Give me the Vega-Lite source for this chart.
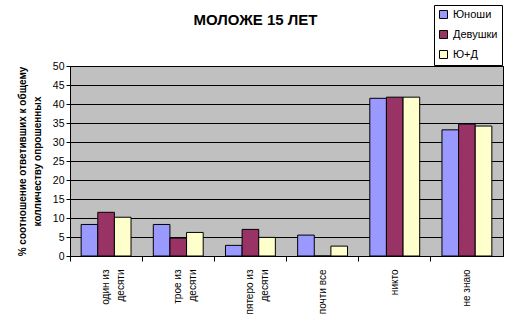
{
  "$schema": "https://vega.github.io/schema/vega-lite/v6.json",
  "width": 433,
  "height": 190,
  "autosize": "none",
  "padding": {"left": 70, "top": 66, "right": 7, "bottom": 67},
  "background": "white",
  "title": {"text": "МОЛОЖЕ 15 ЛЕТ", "font": "Liberation Sans", "fontSize": 15, "fontWeight": "bold", "color": "black", "anchor": "middle", "frame": "group", "dx": -31, "offset": 0, "dy": 23},
  "data": {"values": [
    {"cat": "один из|десяти", "g": "Юноши", "v": 8.3},
    {"cat": "один из|десяти", "g": "Девушки", "v": 11.5},
    {"cat": "один из|десяти", "g": "Ю+Д", "v": 10.2},
    {"cat": "трое из|десяти", "g": "Юноши", "v": 8.3},
    {"cat": "трое из|десяти", "g": "Девушки", "v": 4.7},
    {"cat": "трое из|десяти", "g": "Ю+Д", "v": 6.2},
    {"cat": "пятеро из|десяти", "g": "Юноши", "v": 2.8},
    {"cat": "пятеро из|десяти", "g": "Девушки", "v": 7.0},
    {"cat": "пятеро из|десяти", "g": "Ю+Д", "v": 4.9},
    {"cat": "почти все", "g": "Юноши", "v": 5.5},
    {"cat": "почти все", "g": "Девушки", "v": 0},
    {"cat": "почти все", "g": "Ю+Д", "v": 2.6},
    {"cat": "никто", "g": "Юноши", "v": 41.5},
    {"cat": "никто", "g": "Девушки", "v": 41.8},
    {"cat": "никто", "g": "Ю+Д", "v": 41.8},
    {"cat": "не знаю", "g": "Юноши", "v": 33.2},
    {"cat": "не знаю", "g": "Девушки", "v": 34.7},
    {"cat": "не знаю", "g": "Ю+Д", "v": 34.2}
  ]},
  "mark": {"type": "bar", "stroke": "black", "strokeWidth": 1},
  "encoding": {
    "x": {
      "field": "cat", "type": "nominal", "sort": null,
      "scale": {"paddingInner": 0, "paddingOuter": 0},
      "axis": {
        "title": null, "labelAngle": 270, "labelAlign": "right", "labelBaseline": "middle",
        "labelExpr": "split(datum.label, '|')", "labelFont": "Liberation Sans", "labelFontSize": 10,
        "labelColor": "black", "labelPadding": 8, "bandPosition": 0, "tickSize": 5,
        "tickColor": "black", "domainColor": "black", "labelLineHeight": 15, "labelLimit": 100
      }
    },
    "xOffset": {
      "field": "g", "type": "nominal",
      "scale": {"domain": ["Юноши", "Девушки", "Ю+Д"], "paddingInner": 0, "paddingOuter": 0.67}
    },
    "y": {
      "field": "v", "type": "quantitative",
      "scale": {"domain": [0, 50], "nice": false},
      "axis": {
        "values": [0, 5, 10, 15, 20, 25, 30, 35, 40, 45, 50],
        "title": ["% соотношение ответивших к общему", "колличеству опрошенных"],
        "titleFont": "Liberation Sans", "titleFontSize": 10, "titleFontWeight": "bold", "titleColor": "black",
        "titlePadding": 10, "titleLineHeight": 15,
        "labelFont": "Liberation Sans", "labelFontSize": 10.5, "labelColor": "black",
        "grid": true, "gridColor": "black", "gridOpacity": 1, "gridWidth": 1,
        "tickColor": "black", "tickSize": 4, "domainColor": "black"
      }
    },
    "fill": {
      "field": "g", "type": "nominal",
      "scale": {"domain": ["Юноши", "Девушки", "Ю+Д"], "range": ["#9999FF", "#993366", "#FFFFCC"]},
      "legend": {
        "title": null, "orient": "none", "legendX": 364, "legendY": -61,
        "symbolType": "square", "symbolSize": 64, "symbolStrokeColor": "black", "symbolStrokeWidth": 1,
        "labelFont": "Liberation Sans", "labelFontSize": 11, "labelColor": "black",
        "strokeColor": "black", "fillColor": "white", "padding": 4, "rowPadding": 7, "symbolOffset": 0
      }
    }
  },
  "config": {
    "view": {"fill": "#C0C0C0", "stroke": "black", "strokeWidth": 1}
  }
}
